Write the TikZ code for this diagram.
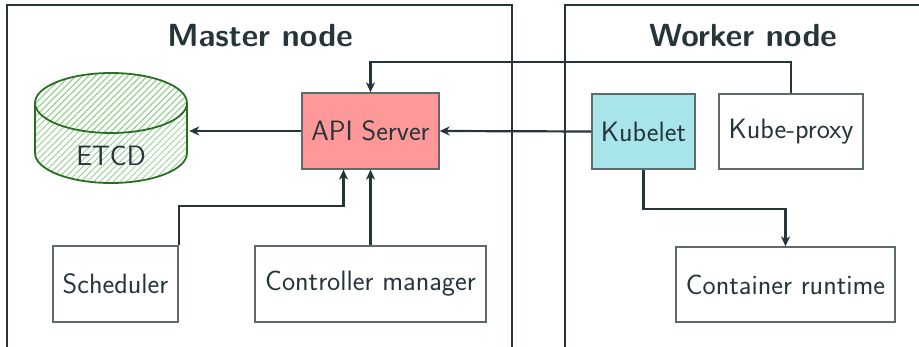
\documentclass[tikz,border=0pt]{standalone}
\usetikzlibrary{arrows.meta,patterns.meta}
\definecolor{ink}{HTML}{263539}
\definecolor{boxline}{HTML}{5E6B6B}
\definecolor{apifill}{HTML}{FF9999}
\definecolor{kubefill}{HTML}{A8E5EB}
\definecolor{dbline}{HTML}{2A6E22}
\definecolor{dbhatch}{HTML}{9ED49A}
\tikzset{
  comp/.style={draw=boxline, line width=1.3pt, inner sep=0pt, text=ink,
    font=\fontsize{28}{33}\selectfont\sffamily},
  frame/.style={draw=ink, line width=1.2pt},
  title/.style={text=ink, font=\fontsize{32}{38}\selectfont\sffamily\bfseries},
  link/.style={draw=ink, line width=2.2pt, -{Stealth[length=10pt,width=9pt,inset=3pt]}},
  hatch/.style={pattern={Lines[angle=45,distance=4.6pt,line width=1pt]}, pattern color=dbhatch},
}
\begin{document}
\begin{tikzpicture}[x=1pt,y=-1pt]
\useasboundingbox (0,0) rectangle (919,347);

% cluster frames
\draw[frame] (7,347) -- (7,5) -- (512,5) -- (512,347);
\draw[frame] (565,347) -- (565,5) -- (919,5);
\node[title] (mtitle) at (260,36) {Master node};
\node[title] (wtitle) at (743,36) {Worker node};

% etcd cylinder
\path[hatch]
  (35,103) -- (35,153) arc[start angle=180,end angle=360,x radius=76,y radius=-30]
  -- (187,103) arc[start angle=0,end angle=180,x radius=76,y radius=-30] -- cycle;
\path[hatch] (111,103) ellipse[x radius=76,y radius=30];
\draw[dbline, line width=1.8pt]
  (35,103) -- (35,153) arc[start angle=180,end angle=360,x radius=76,y radius=-30]
  -- (187,103);
\draw[dbline, line width=1.8pt] (111,103) ellipse[x radius=76,y radius=30];
\node[inner sep=0pt, minimum width=156pt, minimum height=110pt] (etcd) at (111,131) {};
\node[text=ink, font=\fontsize{28}{33}\selectfont\sffamily] (etcdlabel) at (111,156) {ETCD};

% components
\node[comp, fill=apifill, minimum width=137pt, minimum height=76pt] (api) at (370.5,131) {API Server};
\node[comp, minimum width=125pt, minimum height=76pt] (sched) at (115.5,284) {Scheduler};
\node[comp, minimum width=231pt, minimum height=76pt] (ctrl) at (370.5,284) {Controller manager};
\node[comp, fill=kubefill, minimum width=103pt, minimum height=75pt] (kubelet) at (643.5,131.5) {Kubelet};
\node[comp, minimum width=144pt, minimum height=75pt] (proxy) at (791,131.5) {Kube-proxy};
\node[comp, minimum width=219pt, minimum height=75pt] (runtime) at (785.5,284.5) {Container runtime};

% connections
\draw[link] (api.west) -- (etcd.east);
\draw[link] (kubelet.west) -- (api.east);
\draw[link] (proxy.north) -- ++(0,-31) -| (api.north);
\draw[link] (sched.north east) -- ++(0,-39) -| ([xshift=-27pt]api.south);
\draw[link] (ctrl.north) -- (api.south);
\draw[link] (kubelet.south) -- ++(0,39) -| (runtime.north);
\end{tikzpicture}
\end{document}
